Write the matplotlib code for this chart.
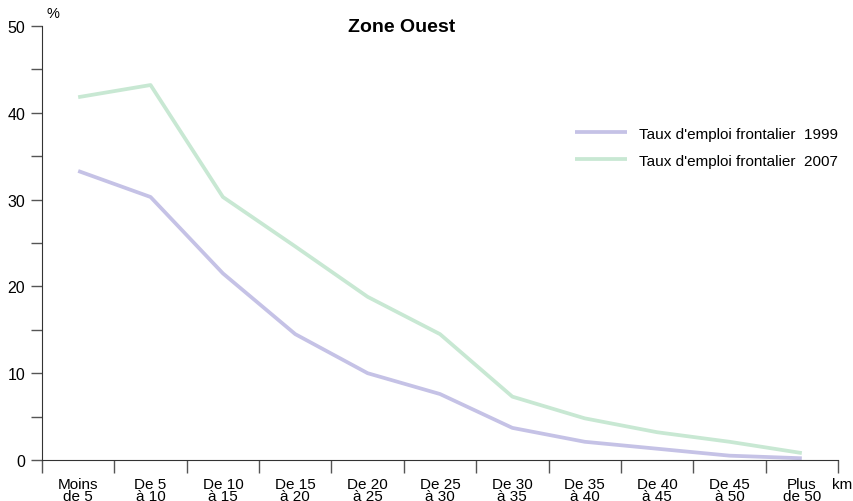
import numpy as np
from matplotlib import pyplot as plt

categories = ['Moins\nde 5', 'De 5\nà 10', 'De 10\nà 15', 'De 15\nà 20', 'De 20\nà 25', 'De 25\nà 30',
              'De 30\nà 35', 'De 35\nà 40', 'De 40\nà 45', 'De 45\nà 50', 'Plus\nde 50']
taux_1999 = [33.3, 30.3, 21.5, 14.5, 10.0, 7.6, 3.7, 2.1, 1.3, 0.5, 0.2]
taux_2007 = [41.8, 43.2, 30.3, 24.6, 18.8, 14.5, 7.3, 4.8, 3.2, 2.1, 0.8]

plt.rcParams['font.family'] = ['Liberation Sans', 'DejaVu Sans']

fig = plt.figure(figsize=(8.54, 5.02), dpi=100)
ax = fig.add_axes([42 / 854, 41 / 502, 796 / 854, 434 / 502])

x = np.arange(len(categories)) + 0.5
ax.plot(x, taux_1999, color='#c5c2e6', lw=2.7, solid_capstyle='butt', label="Taux d'emploi frontalier  1999")
ax.plot(x, taux_2007, color='#c8e8d3', lw=2.7, solid_capstyle='butt', label="Taux d'emploi frontalier  2007")

ax.set_xlim(0, len(categories))
ax.set_ylim(0, 50)
ax.spines['top'].set_visible(False)
ax.spines['right'].set_visible(False)
ax.spines['left'].set_color('#333333')
ax.spines['bottom'].set_color('#333333')

ax.set_yticks(range(0, 51, 10))
ax.set_yticks(range(5, 50, 10), minor=True)
ax.tick_params(axis='y', which='both', length=8, width=1, color='#555555', labelsize=11.5, pad=4)

ax.set_xticks(range(len(categories) + 1))
ax.set_xticklabels([])
ax.set_xticks(x, minor=True)
ax.set_xticklabels(categories, minor=True, fontsize=11, linespacing=0.85)
ax.tick_params(axis='x', which='major', length=9, width=1, color='#555555', direction='out')
ax.tick_params(axis='x', which='minor', length=0, pad=12)

ax.text(0.006, 1.02, '%', transform=ax.transAxes, fontsize=10.5)
ax.text(0.992, -0.055, 'km', transform=ax.transAxes, fontsize=11, va='center', ha='left')
ax.set_title('Zone Ouest', fontsize=14, fontweight='bold', x=0.452, y=0.97)

ax.legend(loc='upper left', bbox_to_anchor=(0.652, 0.80), frameon=False, fontsize=11,
          handlelength=3.4, handletextpad=0.8, labelspacing=0.85)

fig.savefig('out.png', dpi=100)
